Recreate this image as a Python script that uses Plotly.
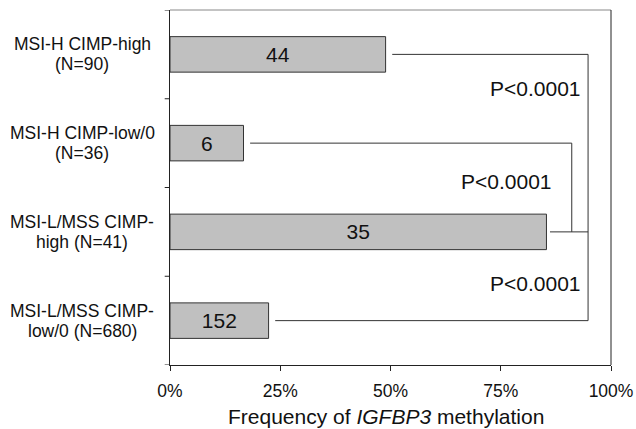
import plotly.graph_objects as go

categories = ["MSI-H CIMP-high<br>(N=90)", "MSI-H CIMP-low/0<br>(N=36)",
              "MSI-L/MSS CIMP-<br>high (N=41)", "MSI-L/MSS CIMP-<br>low/0 (N=680)"]
counts = [44, 6, 35, 152]
totals = [90, 36, 41, 680]
freq = [c / t * 100 for c, t in zip(counts, totals)]
x_ticks = [0, 25, 50, 75, 100]
x_tick_labels = ["0%", "25%", "50%", "75%", "100%"]
p_labels = ["P<0.0001", "P<0.0001", "P<0.0001"]
x_title = "Frequency of <i>IGFBP3</i> methylation"

FONT = "Liberation Sans, Arial, sans-serif"
gap = 1.5
outer_x = 94.8
inner_x = 91.1
line_col = "#333333"

fig = go.Figure()
fig.add_trace(go.Bar(
    y=list(range(4)), x=freq, orientation="h", width=0.4,
    marker=dict(color="#c0c0c0", line=dict(color="#333333", width=1)),
    text=[str(c) for c in counts], textposition="inside", insidetextanchor="middle",
    textfont=dict(family=FONT, size=21, color="#111111"),
    hoverinfo="skip", showlegend=False,
))

def seg(x0, y0, x1, y1):
    fig.add_shape(type="line", x0=x0, y0=y0, x1=x1, y1=y1, xref="x", yref="y",
                  line=dict(color=line_col, width=1))

seg(freq[0] + gap, 0, outer_x, 0)
seg(outer_x, 0, outer_x, 3)
seg(freq[3] + gap, 3, outer_x, 3)
seg(freq[2] + 0.8, 2, outer_x, 2)
seg(freq[1] + gap, 1, inner_x, 1)
seg(inner_x, 1, inner_x, 2)

# P labels
p_pos = [(outer_x - 1.4, 0.39), (inner_x - 4.3, 1.43), (outer_x - 1.4, 2.58)]
for (px, py), lab in zip(p_pos, p_labels):
    fig.add_annotation(x=px, y=py, xref="x", yref="y", text=lab, showarrow=False,
                       xanchor="right", yanchor="middle", borderpad=0,
                       font=dict(family=FONT, size=21, color="#111111"))

# category labels, centered text, two lines each
for i, lab in enumerate(categories):
    lines = lab.split("<br>")
    for j, ln in enumerate(lines):
        fig.add_annotation(x=-0.199, y=i, xref="paper", yref="y", text=ln, showarrow=False,
                           xanchor="center", yanchor="middle", align="center",
                           yshift=10 - 20 * j,
                           font=dict(family=FONT, size=17.5, color="#111111"))

# x-axis title
fig.add_annotation(x=0.49, y=0, xref="paper", yref="paper", text=x_title, showarrow=False,
                   xanchor="center", yanchor="bottom", borderpad=0, yshift=-64,
                   font=dict(family=FONT, size=21, color="#111111"))

# top/right frame
fig.add_shape(type="line", xref="paper", yref="paper", x0=0, y0=1, x1=1, y1=1,
              line=dict(color="#888888", width=1))
fig.add_shape(type="line", xref="paper", yref="paper", x0=1, y0=0, x1=1, y1=1,
              line=dict(color="#222222", width=1))

fig.update_layout(
    template="none",
    width=636, height=429,
    margin=dict(l=170, r=25, t=10, b=64, pad=0),
    plot_bgcolor="white", paper_bgcolor="white",
    font=dict(family=FONT, color="#111111"),
    xaxis=dict(range=[0, 100], tickvals=x_ticks, ticktext=x_tick_labels,
               ticks="outside", ticklen=5, tickcolor="#222222", ticklabelstandoff=5,
               showline=True, linecolor="#222222", linewidth=1, automargin=False,
               showgrid=False, zeroline=False,
               tickfont=dict(size=17.5, family=FONT, color="#111111")),
    yaxis=dict(range=[3.5, -0.5], tickvals=[0, 1, 2, 3], showticklabels=False,
               ticks="", showline=True, linecolor="#222222", linewidth=1,
               showgrid=False, zeroline=False, automargin=False),
)
for b in [-0.5, 0.5, 1.5, 2.5, 3.5]:
    fig.add_shape(type="line", xref="paper", yref="y", x0=-0.012, x1=0, y0=b, y1=b,
                  line=dict(color="#222222", width=1))

fig.write_html("out.html")
